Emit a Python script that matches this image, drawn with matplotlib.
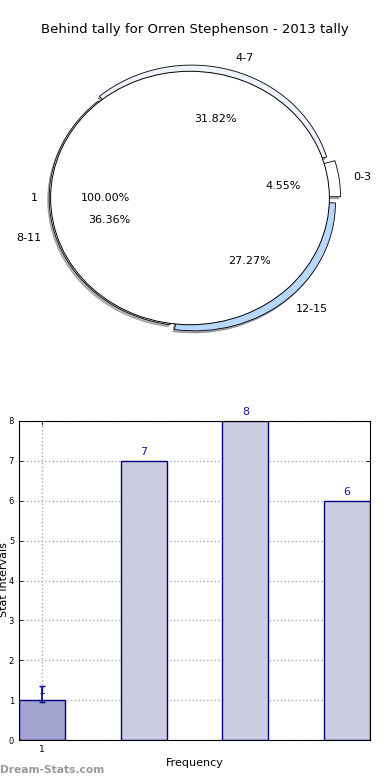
import numpy as np
import matplotlib
matplotlib.use('Agg')
import matplotlib.pyplot as plt

# pie data
inner_labels = ['1']
inner_values = [1]
ring_labels = ['0-3', '4-7', '8-11', '12-15']
ring_values = [1, 7, 8, 6]
ring_colors = ['#ffffff', '#eef3fe', '#ffffff', '#b9d7fb']
ring_explode = [0.07, 0.04, 0.0, 0.05]

# bar data
bar_pos = [0, 1, 2, 3]
bar_values = [1, 7, 8, 6]
bar_colors = ['#a3a3cf', '#ccccE3', '#ccccE3', '#ccccE3']
xtick_pos = [0]
xtick_labels = ['1']

W, H = 390, 780
fig = plt.figure(figsize=(W / 100, H / 100), dpi=100)

def px_axes(l, t, r, b):
    return fig.add_axes([l / W, 1 - b / H, (r - l) / W, (b - t) / H])

# ---- pie: outer ring first, inner disc on top ----
ax1 = px_axes(14, 38, 366, 358)
ax1.pie(ring_values, labels=ring_labels, colors=ring_colors, startangle=0,
        radius=1.0, explode=ring_explode, autopct='%1.2f%%',
        pctdistance=0.6, labeldistance=1.1,
        shadow=dict(ox=-0.008, oy=-0.012, shade=0.6),
        wedgeprops=dict(width=0.12, edgecolor='black', linewidth=0.6),
        textprops=dict(fontsize=8))
ax1.pie(inner_values, labels=inner_labels, colors=['white'], startangle=0,
        radius=0.99, autopct='%1.2f%%', pctdistance=0.61, labeldistance=1.09,
        shadow=False, wedgeprops=dict(edgecolor='black', linewidth=0.7),
        textprops=dict(fontsize=8))
ax1.set_xlim(-1.25, 1.25)
ax1.set_ylim(-1.25, 1.25)
ax1.set_aspect('auto')
fig.text(0.5, 1 - 30 / H, 'Behind tally for Orren Stephenson - 2013 tally',
         ha='center', va='center', fontsize=9.5)

# ---- bars ----
ax2 = px_axes(19, 421, 370, 740)
ax2.bar(bar_pos, bar_values, width=0.45, color=bar_colors,
        edgecolor='#000080', linewidth=1.0, zorder=2)
for x, v in zip(bar_pos, bar_values):
    ax2.text(x, v + 0.1, str(v), ha='center', va='bottom', fontsize=8,
             color='#1a1a8c', zorder=4)
ax2.errorbar([bar_pos[0]], [1.15], yerr=[0.2], fmt='none', ecolor='#000080',
             capsize=2, elinewidth=1.2, zorder=3)
ax2.set_xlim(-0.225, 3.225)
ax2.set_ylim(0, 8)
ax2.set_xticks(xtick_pos)
ax2.set_xticklabels(xtick_labels, fontsize=6.5)
ax2.set_yticks(range(0, 9))
ax2.tick_params(axis='y', labelsize=6)
ax2.tick_params(direction='in', length=3, top=True, right=True, width=0.6)
ax2.grid(True, linestyle=':', color='#aaaaaa', linewidth=1.0, zorder=0)
ax2.set_axisbelow(True)
ax2.set_xlabel('Frequency', fontsize=8, labelpad=3)
fig.text(4 / W, 1 - 580 / H, 'Stat Intervals', rotation=90, ha='center',
         va='center', fontsize=8)
fig.text(0, 1 - 770 / H, 'Dream-Stats.com', ha='left', va='center',
         fontsize=7.7, color='#999999', fontweight='bold')

fig.savefig('out.png', dpi=100)
